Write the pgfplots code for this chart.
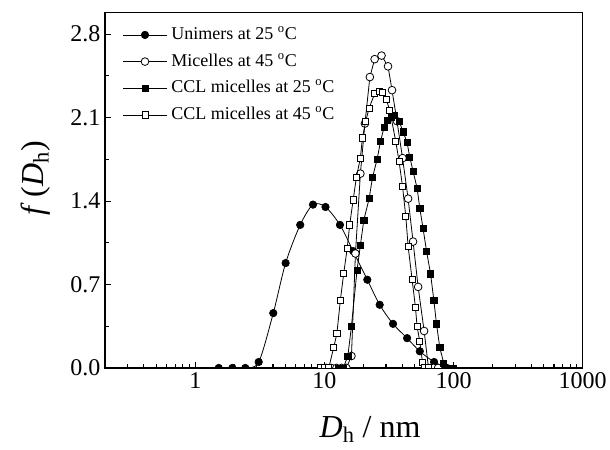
\documentclass[border=0pt]{standalone}
\usepackage{fontspec}
\setmainfont{Liberation Serif}
\usepackage{pgfplots}
\pgfplotsset{compat=1.18}
\begin{document}
\begin{tikzpicture}
\path[use as bounding box] (-78.75pt,-61.5pt) rectangle (378.8pt,276pt);
\begin{axis}[
  scale only axis, width=358.3pt, height=266.5pt,
  xmode=log, xmin=0.2, xmax=1000, ymin=0, ymax=2.98,
  xtick={1,10,100,1000}, xticklabels={1,10,100,1000},
  minor xtick={0.2,0.3,0.4,0.5,0.6,0.7,0.8,0.9,2,3,4,5,6,7,8,9,20,30,40,50,60,70,80,90,200,300,400,500,600,700,800,900},
  ytick={0,0.7,1.4,2.1,2.8}, minor ytick={0.35,1.05,1.75,2.45},
  tick pos=left, tick align=inside,
  major tick length=4.5pt, minor tick length=3pt,
  every tick/.style={black, line width=0.8pt},
  axis line style={line width=1pt},
  /pgf/number format/assume math mode=true,
  yticklabel style={/pgf/number format/.cd, fixed, fixed zerofill, precision=1},
  ticklabel style={font=\fontsize{18}{18}\selectfont},
  every axis x label/.style={at={([yshift=-52pt]rel axis cs:0.555,0)}, anchor=base, font=\fontsize{24}{24}\selectfont},
  every axis y label/.style={at={([xshift=-46pt]rel axis cs:0,0.534)}, anchor=base, rotate=90, font=\fontsize{24}{24}\selectfont},
  xlabel={\textit{D}\textsubscript{h} / nm},
  ylabel={\textit{f}\,(\textit{D}\textsubscript{h})},
  clip marker paths=true,
  legend cell align=left,
  legend style={at={(axis description cs:0,1)}, anchor=north west, xshift=10pt, yshift=-8pt,
    draw=none, fill=none, font=\fontsize{13.5}{13.5}\selectfont,
    nodes={inner sep=0pt, text height=10pt, text depth=3pt}, row sep=7pt,
    /tikz/every odd column/.append style={column sep=3pt}},
  legend image code/.code={\draw[mark repeat=2, mark phase=2] plot coordinates {(0pt,0pt) (16.5pt,0pt) (33pt,0pt)};},
]
\addplot[black, line width=0.6pt, smooth, tension=0.5, mark=*, mark size=2.8pt, mark options={fill=black, line width=0.5pt}] coordinates {
(1.52,0)(1.94,0)(2.44,0)(3.1,0.05)(4.02,0.46)(5.01,0.88)(6.5,1.20)(8.16,1.37)(10.2,1.35)(13.2,1.20)(16.7,0.98)(21.5,0.74)(26.8,0.53)(34.0,0.37)(43.7,0.25)(54.8,0.14)(70.7,0.05)(89,0)
};
\addlegendentry{Unimers at 25 \textsuperscript{o}C}
\addplot[black, line width=0.6pt, mark=*, mark size=2.9pt, mark options={fill=white, line width=0.6pt}] coordinates {
(10.3,0)(11.3,0)(12.4,0)(13.6,0)(14.8,0)(16.2,0.10)(17.4,0.96)(19.0,1.63)(20.6,2.05)(22.5,2.44)(24.5,2.59)(27.7,2.62)(31.1,2.53)(33.4,2.33)(36.5,2.07)(40.3,1.76)(44.5,1.42)(48.6,1.06)(53.2,0.68)(59.2,0.31)(64,0)(70,0)(76,0)
};
\addlegendentry{Micelles at 45 \textsuperscript{o}C}
\addplot[black, line width=0.6pt, mark=square*, mark size=2.3pt, mark options={fill=black, line width=0.5pt}] coordinates {
(12.8,0)(14.0,0)(15.2,0.10)(16.2,0.35)(17.9,0.82)(19.0,1.03)(20.2,1.24)(22.2,1.42)(23.6,1.60)(25.6,1.75)(27.2,1.90)(29.0,2.02)(30.8,2.08)(33.0,2.10)(35.0,2.12)(37.9,2.07)(40.7,1.98)(43.7,1.89)(45.8,1.77)(48.6,1.65)(52.2,1.51)(54.8,1.34)(58.1,1.17)(61.8,0.98)(66.4,0.79)(70.4,0.57)(73.8,0.37)(78.3,0.17)(84,0.04)(92,0)(100,0)
};
\addlegendentry{CCL micelles at 25 \textsuperscript{o}C}
\addplot[black, line width=0.6pt, mark=square*, mark size=2.3pt, mark options={fill=white, line width=0.6pt}] coordinates {
(9.4,0)(10.0,0)(10.8,0)(11.8,0.17)(12.5,0.29)(13.3,0.57)(14.1,0.79)(15.0,1.00)(15.7,1.20)(16.7,1.41)(17.7,1.60)(19.0,1.76)(19.7,1.93)(20.9,2.07)(22.2,2.18)(24.5,2.30)(26.5,2.32)(28.2,2.31)(30.2,2.25)(32.1,2.16)(35.7,1.90)(37.9,1.73)(40.3,1.52)(42.7,1.27)(44.5,1.02)(47.8,0.74)(50.7,0.51)(52.2,0.35)(54.8,0.22)(57.5,0.05)(60,0)(64,0)
};
\addlegendentry{CCL micelles at 45 \textsuperscript{o}C}
\end{axis}
\end{tikzpicture}
\end{document}
